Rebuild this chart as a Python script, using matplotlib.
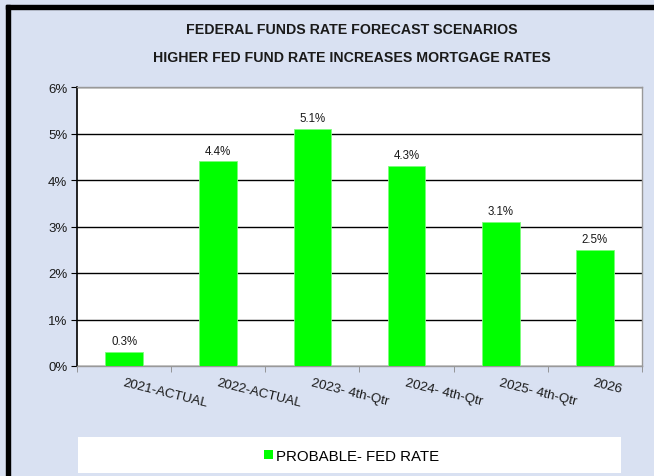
import matplotlib.pyplot as plt
import matplotlib.ticker as mtick
from matplotlib.patches import Rectangle, Patch

# --- DATA ---
categories = ['2021-ACTUAL', '2022-ACTUAL', '2023- 4th-Qtr', '2024- 4th-Qtr', '2025- 4th-Qtr', '2026']
fed_rate = [0.3, 4.4, 5.1, 4.3, 3.1, 2.5]
series_name = 'PROBABLE- FED RATE'
title_1 = 'FEDERAL FUNDS RATE FORECAST SCENARIOS'
title_2 = 'HIGHER FED FUND RATE INCREASES MORTGAGE RATES'

plt.rcParams['font.family'] = ['Liberation Sans', 'DejaVu Sans']

bg = '#D9E1F2'
green = '#00FF00'
ink = '#1a1a1a'

fig = plt.figure(figsize=(6.54, 4.77), dpi=100)
fig.patch.set_facecolor(bg)
W, H = 654, 477

def fx(px): return px / W
def fy(py): return 1 - py / H

# black frame (left + top)
fig.patches.append(Rectangle((fx(6), 0), fx(4), fy(6), transform=fig.transFigure, color='black', zorder=0))
fig.patches.append(Rectangle((fx(6), fy(10)), 1, 4 / H, transform=fig.transFigure, color='black', zorder=0))

# titles
fig.text(fx(352), fy(30), title_1, ha='center', va='center', fontsize=10.2, fontweight='bold', color=ink)
fig.text(fx(352), fy(58), title_2, ha='center', va='center', fontsize=10.2, fontweight='bold', color=ink)

# plot area
ax = fig.add_axes([fx(77), fy(367), fx(642) - fx(77), fy(88) - fy(367)])
ax.set_facecolor('white')
x = list(range(len(categories)))
ax.bar(x, fed_rate, width=0.4, color=green, edgecolor='#7CFC7C', linewidth=0.6, zorder=3)

for xi, v in zip(x, fed_rate):
    ax.annotate(f'{v:.1f}%', (xi, v), xytext=(0, 3.5), textcoords='offset points',
                ha='center', va='bottom', fontsize=8.3, color=ink)

ax.set_xlim(-0.5, len(categories) - 0.5)
ax.set_ylim(0, 6)
ax.yaxis.set_major_locator(mtick.MultipleLocator(1))
ax.yaxis.set_major_formatter(mtick.FuncFormatter(lambda v, p: f'{v:.0f}%'))
ax.grid(axis='y', color='black', linewidth=1, zorder=1)
ax.set_axisbelow(True)

ax.set_xticks(x)
ax.set_xticklabels([])
ax.set_xticks([i - 0.5 for i in range(len(categories) + 1)], minor=True)
ax.tick_params(axis='x', which='major', length=0)
ax.tick_params(axis='x', which='minor', length=4, color='#888888', direction='out')
ax.tick_params(axis='y', length=4, color='black', labelsize=9.5, pad=3, labelcolor=ink)

for xi, lab in zip(x, categories):
    ax.text(xi, -0.22, lab, rotation=-14, rotation_mode='anchor', ha='left', va='top',
            fontsize=9.6, color=ink, transform=ax.transData, clip_on=False)

ax.spines['left'].set_color('black')
ax.spines['left'].set_linewidth(1.2)
for s in ['top', 'right', 'bottom']:
    ax.spines[s].set_color('#999999')
    ax.spines[s].set_linewidth(1)

# legend box
fig.patches.append(Rectangle((fx(78), fy(474)), fx(621) - fx(78), fy(438) - fy(474),
                             transform=fig.transFigure, facecolor='white', edgecolor='none', zorder=0))
handle = Patch(facecolor=green, edgecolor='none')
fig.legend([handle], [series_name], loc='center', bbox_to_anchor=(fx(352), fy(457)),
           frameon=False, fontsize=10.8, handlelength=0.55, handleheight=0.55, handletextpad=0.25)

fig.savefig('out.png', dpi=100, facecolor=bg)
